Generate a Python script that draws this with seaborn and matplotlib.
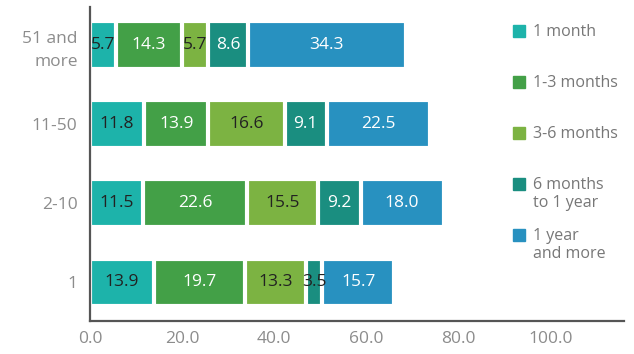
import numpy as np
import pandas as pd
import matplotlib.pyplot as plt
import seaborn as sns
from matplotlib.patches import Rectangle

# company size groups (top to bottom) and duration categories
sizes = ["51 and\nmore", "11-50", "2-10", "1"]
series = ["1 month", "1-3 months", "3-6 months", "6 months\nto 1 year", "1 year\nand more"]

one_month = [5.7, 11.8, 11.5, 13.9]
one_to_three = [14.3, 13.9, 22.6, 19.7]
three_to_six = [5.7, 16.6, 15.5, 13.3]
six_to_twelve = [8.6, 9.1, 9.2, 3.5]
year_plus = [34.3, 22.5, 18.0, 15.7]

x_ticks = [0, 20, 40, 60, 80, 100]

colors = ["#1db3aa", "#43a047", "#7cb342", "#1a8e80", "#2891c0"]
label_colors = ["#222222", "white", "#222222", "white", "white"]

sns.set_style("white")
plt.rcParams['font.family'] = ['Open Sans', 'DejaVu Sans']

values = np.array([one_month, one_to_three, three_to_six, six_to_twelve, year_plus])
cum = values.cumsum(axis=0)

fig, ax = plt.subplots(figsize=(6.34, 3.54), dpi=100)
fig.subplots_adjust(left=90/634, right=624/634, top=1-7/354, bottom=1-321/354)

# stacked bars: draw cumulative totals from the widest down
for i in reversed(range(len(series))):
    df = pd.DataFrame({'size': sizes, 'total': cum[i]})
    sns.barplot(data=df, x='total', y='size', orient='h', color=colors[i],
                saturation=1, width=0.6, edgecolor='white', linewidth=3, ax=ax)

# value labels in the middle of each segment
for i in range(len(series)):
    for j in range(len(sizes)):
        v = values[i, j]
        c = label_colors[i] if v >= 5 else "#222222"
        ax.text(cum[i, j] - v / 2, j, f"{v:.1f}", ha='center', va='center',
                fontsize=12.5, color=c)

ax.set_xlim(0, 116)
ax.set_ylim(3.49, -0.48)
ax.set_xticks(x_ticks)
ax.set_xticklabels([f"{t:.1f}" for t in x_ticks])
ax.set_xlabel('')
ax.set_ylabel('')
for lab in ax.get_yticklabels():
    lab.set_multialignment('right')
    lab.set_linespacing(1.6)
ax.tick_params(axis='both', length=0, labelsize=12.5, labelcolor='#8c8c8c')
ax.tick_params(axis='x', pad=7)
ax.tick_params(axis='y', pad=9)

sns.despine(ax=ax)
for s in ['left', 'bottom']:
    ax.spines[s].set_color('#555555')
    ax.spines[s].set_linewidth(1.6)

# legend on the right
W, H = 634, 354
for i, name in enumerate(series):
    yc = 31 + 51 * i
    fig.patches.append(Rectangle((513 / W, (H - yc - 6) / H), 12 / W, 12 / H,
                                 transform=fig.transFigure, color=colors[i]))
    fig.text(533 / W, (H - yc + 7) / H, name, ha='left', va='top', fontsize=11.5,
             color='#777777', linespacing=1.2)

fig.savefig('out.png', dpi=100)
